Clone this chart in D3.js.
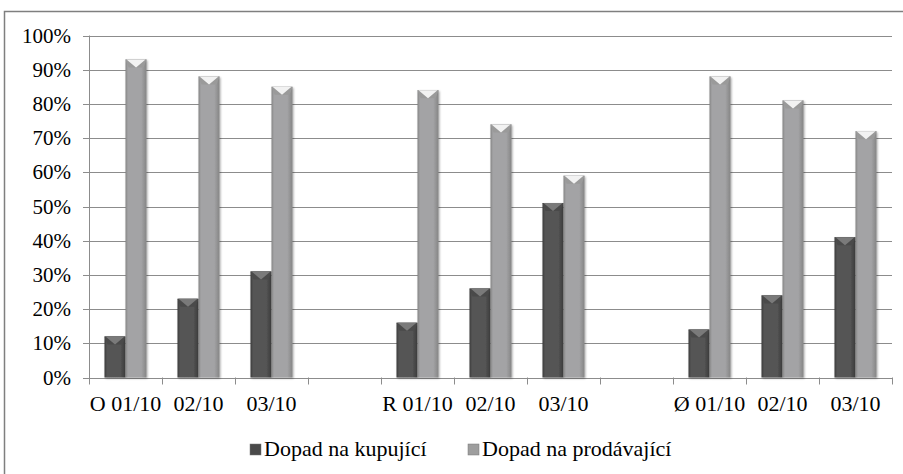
<!DOCTYPE html>
<html><head><meta charset="utf-8">
<script src="https://cdn.jsdelivr.net/npm/d3@7"></script>
</head><body style="margin:0"><svg id="c" width="903" height="474"></svg>
<script>
const categories = ["O 01/10","02/10","03/10","","R 01/10","02/10","03/10","","Ø 01/10","02/10","03/10"];
const kupujici = [12,23,31,null,16,26,51,null,14,24,41];
const prodavajici = [93,88,85,null,84,74,59,null,88,81,72];
const seriesNames = ["Dopad na kupující","Dopad na prodávající"];
const yTicks = [0,10,20,30,40,50,60,70,80,90,100];

const svg = d3.select("#c");
const FF = "Times New Roman";
const M = {left:89, right:892, top:35.5, bottom:377.5};
const keys = categories.map((c,i)=>i);
const x = d3.scaleBand().domain(keys).range([M.left, M.right]).padding(0);
const y = d3.scaleLinear().domain([0,100]).range([M.bottom, M.top]);
const barW = 21;

svg.append("path").attr("d","M4.5,474 V11.5 H903").attr("fill","none").attr("stroke","#7f7f7f").attr("stroke-width",1.5);

const defs = svg.append("defs");
function grad(id, edge, mid){
  const g = defs.append("linearGradient").attr("id",id).attr("x1","0").attr("x2","1").attr("y1","0").attr("y2","0");
  g.append("stop").attr("offset","0").attr("stop-color",edge);
  g.append("stop").attr("offset","0.12").attr("stop-color",mid);
  g.append("stop").attr("offset","0.75").attr("stop-color",mid);
  g.append("stop").attr("offset","1").attr("stop-color",edge);
}
grad("gDark","#3a3a3a","#555555");
grad("gLight","#858585","#a3a3a5");
const sh = defs.append("filter").attr("id","sh").attr("x","-30%").attr("y","-10%").attr("width","160%").attr("height","120%");
sh.append("feGaussianBlur").attr("in","SourceAlpha").attr("stdDeviation",1.2);
sh.append("feOffset").attr("dx",0.5).attr("dy",0.5).attr("result","b");
sh.append("feComponentTransfer").append("feFuncA").attr("type","linear").attr("slope",0.35);
const fm = sh.append("feMerge"); fm.append("feMergeNode"); fm.append("feMergeNode").attr("in","SourceGraphic");

svg.append("g").selectAll("line").data(yTicks).join("line")
  .attr("x1",M.left-6).attr("x2",M.right).attr("y1",d=>Math.round(y(d))+0.5).attr("y2",d=>Math.round(y(d))+0.5)
  .attr("stroke","#8c8c8c").attr("stroke-width",1);
svg.append("line").attr("x1",M.left+0.5).attr("x2",M.left+0.5).attr("y1",y(100)).attr("y2",M.bottom+6.5).attr("stroke","#8c8c8c");

const xt = keys.map(k=>x(k)).concat([M.right]);
svg.append("g").selectAll("line").data(xt).join("line")
  .attr("x1",d=>Math.round(d)+0.5).attr("x2",d=>Math.round(d)+0.5).attr("y1",M.bottom).attr("y2",M.bottom+7)
  .attr("stroke","#8c8c8c");

function drawBars(vals, offset, gid, capLight, capSide){
  const g = svg.append("g");
  const data = keys.filter(k=>vals[k]!=null).map(k=>({k,v:vals[k]}));
  const bx = d=>x(d.k)+x.bandwidth()/2+offset;
  g.selectAll("rect").data(data).join("rect")
    .attr("x",bx).attr("y",d=>y(d.v)).attr("width",barW).attr("height",d=>M.bottom-y(d.v))
    .attr("fill",`url(#${gid})`).attr("filter","url(#sh)");
  g.selectAll("path.side").data(data).join("path").attr("class","side")
    .attr("d",d=>{const x0=bx(d),y0=y(d.v);return `M${x0},${y0}H${x0+barW}L${x0+barW-3},${y0+8}H${x0+3}Z`;})
    .attr("fill",capSide);
  g.selectAll("path.cap").data(data).join("path").attr("class","cap")
    .attr("d",d=>{const x0=bx(d),y0=y(d.v);return `M${x0+1},${y0}H${x0+barW-1}L${x0+barW/2},${y0+8}Z`;})
    .attr("fill",capLight);
}
drawBars(kupujici,-barW,"gDark","#7a7a7a","#4a4a4a");
drawBars(prodavajici,0,"gLight","#f2f2f2","#9a9a9a");

yTicks.forEach(d=>{
  svg.append("text").attr("font-family",FF).attr("font-size",21)
    .attr("x",71).attr("y",y(d)+7).attr("text-anchor","end").text(d+"%");
});
keys.forEach(k=>{
  svg.append("text").attr("font-family",FF).attr("font-size",22)
    .attr("x",x(k)+x.bandwidth()/2).attr("y",411).attr("text-anchor","middle").text(categories[k]);
});

const leg = [{n:seriesNames[0],c:"#4a4a4a",x:250},{n:seriesNames[1],c:"#9e9e9e",x:468}];
leg.forEach(d=>{
  svg.append("rect").attr("x",d.x).attr("y",444).attr("width",11).attr("height",11).attr("fill",d.c).attr("stroke","#777").attr("stroke-width",0.5);
  svg.append("text").attr("font-family",FF).attr("font-size",22).attr("x",d.x+14).attr("y",456).text(d.n);
});
</script></body></html>
